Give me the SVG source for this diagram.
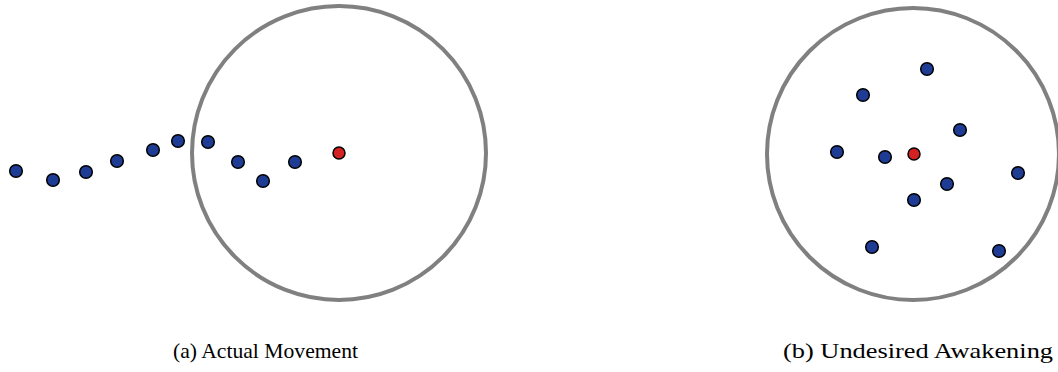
<svg xmlns="http://www.w3.org/2000/svg" width="1058" height="372" viewBox="0 0 1058 372">
<style>
.ring{fill:none;stroke:#808080;stroke-width:4}
.b{fill:#1f3c94;stroke:#000;stroke-width:1.5}
.r{fill:#d42222;stroke:#000;stroke-width:1.5}
.cap{font-family:"Liberation Serif",serif;font-size:21px;fill:#000}
</style>
<rect width="1058" height="372" fill="#fff"/>
<g id="panel-a">
<circle class="ring" cx="339" cy="153" r="147"/>
<circle class="b" cx="16" cy="171" r="6.3"/>
<circle class="b" cx="53" cy="180" r="6.3"/>
<circle class="b" cx="86" cy="172" r="6.3"/>
<circle class="b" cx="117" cy="161" r="6.3"/>
<circle class="b" cx="153" cy="150" r="6.3"/>
<circle class="b" cx="178" cy="141" r="6.3"/>
<circle class="b" cx="208" cy="142" r="6.3"/>
<circle class="b" cx="238" cy="162" r="6.3"/>
<circle class="b" cx="263" cy="181" r="6.3"/>
<circle class="b" cx="295" cy="162" r="6.3"/>
<circle class="r" cx="339" cy="153" r="6"/>
<text class="cap" x="173" y="358" textLength="185" lengthAdjust="spacingAndGlyphs">(a) Actual Movement</text>
</g>
<g id="panel-b">
<circle class="ring" cx="913" cy="154" r="146"/>
<circle class="b" cx="927" cy="69" r="6.3"/>
<circle class="b" cx="863" cy="95" r="6.3"/>
<circle class="b" cx="960" cy="130" r="6.3"/>
<circle class="b" cx="837" cy="152" r="6.3"/>
<circle class="b" cx="885" cy="157" r="6.3"/>
<circle class="b" cx="1018" cy="173" r="6.3"/>
<circle class="b" cx="947" cy="184" r="6.3"/>
<circle class="b" cx="914" cy="200" r="6.3"/>
<circle class="b" cx="872" cy="247" r="6.3"/>
<circle class="b" cx="999" cy="251" r="6.3"/>
<circle class="r" cx="914" cy="154" r="6"/>
<text class="cap" x="783" y="358" textLength="270" lengthAdjust="spacingAndGlyphs">(b) Undesired Awakening</text>
</g>
</svg>
